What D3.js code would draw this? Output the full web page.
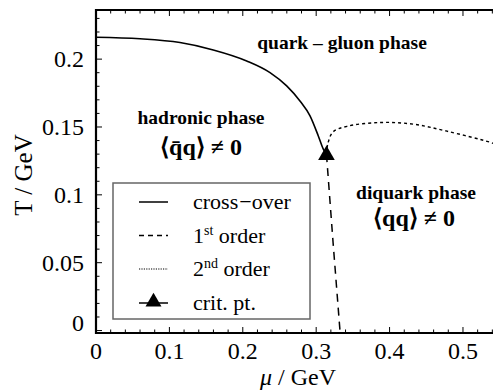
<!DOCTYPE html>
<html>
<head>
<meta charset="utf-8">
<script src="https://cdn.jsdelivr.net/npm/d3@7/dist/d3.min.js"></script>
<style>
  html, body { margin: 0; padding: 0; background: #fff; }
  svg { display: block; }
</style>
</head>
<body>
<svg id="chart" width="493" height="392" font-family="'Liberation Serif', 'DejaVu Serif', serif"></svg>
<script>
// Phase boundaries in the (mu, T) plane, GeV
const crossOver = [
  [0.000, 0.2161], [0.060, 0.2150], [0.1144, 0.2122], [0.1598, 0.2068],
  [0.2053, 0.1987], [0.2371, 0.1901], [0.2598, 0.1803], [0.2779, 0.1692],
  [0.2916, 0.1582], [0.3029, 0.1434], [0.3097, 0.1337], [0.3140, 0.1300]
];
const firstOrder = [[0.3140, 0.1300], [0.3230, 0.0650], [0.3324, 0.0000]];
const secondOrder = [
  [0.3140, 0.1300], [0.3160, 0.1380], [0.3229, 0.1463], [0.3420, 0.1505],
  [0.3869, 0.1533], [0.4319, 0.1521], [0.4782, 0.1469], [0.5368, 0.1388],
  [0.5450, 0.1372]
];
const critPoint = [0.3140, 0.1300];

const xTicks = [0, 0.1, 0.2, 0.3, 0.4, 0.5];
const yTicks = [0, 0.05, 0.1, 0.15, 0.2];
const xTickLabels = ["0", "0.1", "0.2", "0.3", "0.4", "0.5"];
const yTickLabels = ["0", "0.05", "0.1", "0.15", "0.2"];
const legendItems = ["cross-over", "1st order", "2nd order", "crit. pt."];

const serif = "Liberation Serif";
const svg = d3.select("#chart");
const x = d3.scaleLinear().domain([0, 0.545]).range([96, 496]);
const y = d3.scaleLinear().domain([-0.0018, 0.2362]).range([333, 10]);

const line = d3.line().x(d => x(d[0])).y(d => y(d[1])).curve(d3.curveMonotoneX);

// curves
svg.append("path").attr("d", line(crossOver))
  .attr("fill", "none").attr("stroke", "#000").attr("stroke-width", 1.6);
svg.append("path").attr("d", d3.line().x(d => x(d[0])).y(d => y(d[1]))(firstOrder))
  .attr("fill", "none").attr("stroke", "#000").attr("stroke-width", 1.5)
  .attr("stroke-dasharray", "8,6").attr("stroke-dashoffset", -14);
svg.append("path").attr("d", d3.line().x(d => x(d[0])).y(d => y(d[1])).curve(d3.curveCatmullRom.alpha(0.5))(secondOrder))
  .attr("fill", "none").attr("stroke", "#000").attr("stroke-width", 1.4)
  .attr("stroke-dasharray", "3,3");

// critical point marker
const tri = d3.symbol().type(d3.symbolTriangle).size(120);
svg.append("path").attr("d", tri())
  .attr("transform", `translate(${x(critPoint[0])},${y(critPoint[1]) + 1})`)
  .attr("fill", "#000");

// frame and ticks
const x0 = x.range()[0], yB = y(y.domain()[0]), yT = y(y.domain()[1]);
const frame = svg.append("g").attr("stroke", "#000").attr("fill", "none");
frame.append("line").attr("x1", x0).attr("x2", x0).attr("y1", yT - 1).attr("y2", yB + 1).attr("stroke-width", 2.2);
frame.append("line").attr("x1", x0 - 1).attr("x2", 500).attr("y1", yB).attr("y2", yB).attr("stroke-width", 2.2);
frame.append("line").attr("x1", x0 - 1).attr("x2", 500).attr("y1", yT).attr("y2", yT).attr("stroke-width", 2.2);

const xMinor = d3.range(0, 0.545, 0.02);
const yMinor = d3.range(0, 0.236, 0.01);
const isMajor = (v, step) => Math.abs(v / step - Math.round(v / step)) < 1e-6;

xMinor.forEach(v => {
  const L = isMajor(v, 0.1) ? 6 : 3.5;
  frame.append("line").attr("x1", x(v)).attr("x2", x(v)).attr("y1", yB).attr("y2", yB - L).attr("stroke-width", 1);
  frame.append("line").attr("x1", x(v)).attr("x2", x(v)).attr("y1", yT).attr("y2", yT + L).attr("stroke-width", 1);
});
yMinor.forEach(v => {
  const L = isMajor(v, 0.05) ? 6 : 3.5;
  frame.append("line").attr("x1", x0).attr("x2", x0 + L).attr("y1", y(v)).attr("y2", y(v)).attr("stroke-width", 1);
});

// tick labels
xTicks.forEach((v, i) => {
  svg.append("text").attr("x", x(v)).attr("y", 359).attr("text-anchor", "middle")
    .attr("font-family", serif).attr("font-size", 24).text(xTickLabels[i]);
});
yTicks.forEach((v, i) => {
  svg.append("text").attr("x", 84).attr("y", y(v) + 8 - (v === 0 ? 8 : 0)).attr("text-anchor", "end")
    .attr("font-family", serif).attr("font-size", 24).text(yTickLabels[i]);
});

// axis titles
svg.append("text").attr("transform", "translate(32,175) rotate(-90)").attr("text-anchor", "middle")
  .attr("font-family", serif).attr("font-size", 25).text("T / GeV");
const xt = svg.append("text").attr("x", 298).attr("y", 385).attr("text-anchor", "middle")
  .attr("font-family", serif).attr("font-size", 24);
xt.append("tspan").attr("font-style", "italic").text("μ");
xt.append("tspan").text(" / GeV");

// phase labels
function label(t, px, py, size) {
  return svg.append("text").attr("x", px).attr("y", py).attr("text-anchor", "middle")
    .attr("font-family", serif).attr("font-size", size).attr("font-weight", "bold").text(t);
}
label("quark – gluon phase", 342, 49, 19.5);
label("hadronic phase", 201, 124, 19.5);
label("⟨q\u0304q⟩ ≠ 0", 201, 155, 24);
label("diquark phase", 416, 199, 19.5);
label("⟨qq⟩ ≠ 0", 414, 226, 24);

// legend
const lg = svg.append("g");
lg.append("rect").attr("x", 113).attr("y", 183).attr("width", 197).attr("height", 136)
  .attr("fill", "#fff").attr("stroke", "#666").attr("stroke-width", 1.5);
const rowY = [202, 235.5, 269, 303];
const styles = [
  { dash: null, w: 1.5 }, { dash: "5,4", w: 1.3 }, { dash: "1.2,1.2", w: 1.2 }, { dash: null, w: 1.5 }
];
legendItems.forEach((name, i) => {
  lg.append("line").attr("x1", 139).attr("x2", 168).attr("y1", rowY[i]).attr("y2", rowY[i])
    .attr("stroke", "#000").attr("stroke-width", styles[i].w)
    .attr("stroke-dasharray", styles[i].dash);
  const t = lg.append("text").attr("x", 193).attr("y", rowY[i] + 7)
    .attr("font-family", serif).attr("font-size", 22);
  if (i === 0) {
    t.text("cross");
    t.append("tspan").attr("dx", 1).text("−");
    t.append("tspan").text("over");
  } else if (i === 1 || i === 2) {
    t.append("tspan").text(i === 1 ? "1" : "2");
    t.append("tspan").attr("font-size", 14).attr("dy", -8).text(i === 1 ? "st" : "nd");
    t.append("tspan").attr("dy", 8).text(" order");
  } else {
    t.text("crit. pt.");
  }
});
lg.append("path").attr("d", tri.size(110)())
  .attr("transform", `translate(153.5,${rowY[3] - 1})`).attr("fill", "#000");
</script>
</body>
</html>
